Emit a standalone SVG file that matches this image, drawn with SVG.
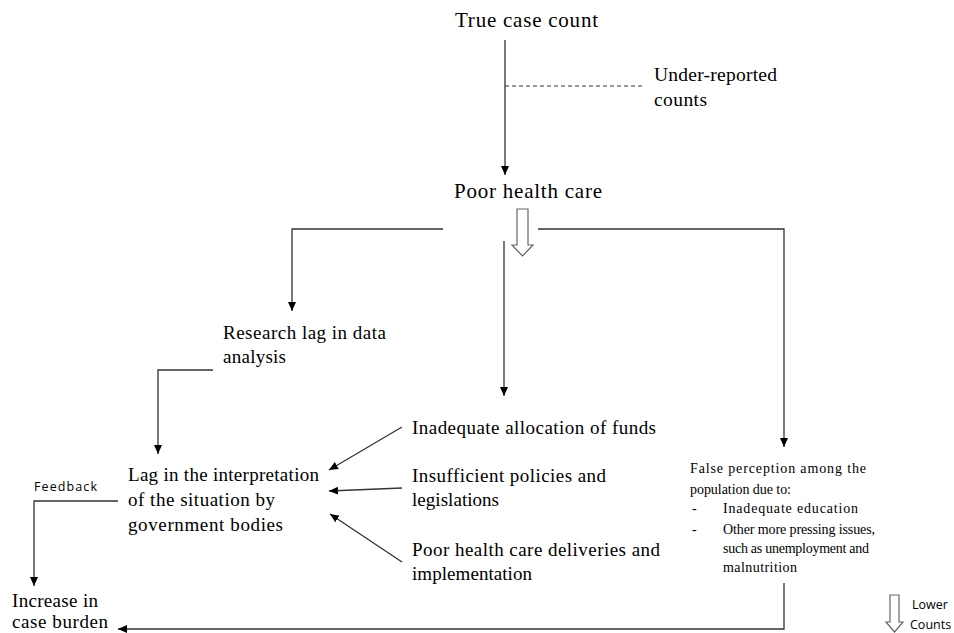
<svg xmlns="http://www.w3.org/2000/svg" width="954" height="633" viewBox="0 0 954 633">
<defs>
<marker id="ah" markerWidth="10" markerHeight="10" refX="9" refY="5" orient="auto" markerUnits="userSpaceOnUse">
<path d="M0,1 L9,5 L0,9 Z" fill="#000"/>
</marker>
</defs>
<style>
.t{font-family:"Liberation Serif","Times New Roman",serif;fill:#000}
.big{font-size:21px}
.mid{font-size:19px}
.sm{font-family:"Liberation Serif",serif;font-size:14px;fill:#000}
.cal{font-family:"Open Sans","Liberation Sans",sans-serif;font-size:12.5px;fill:#000}
.ln{stroke:#333;stroke-width:1.3;fill:none}
.ar{stroke:#333;stroke-width:1.3;fill:none;marker-end:url(#ah)}
.hollow{fill:#fff;stroke:#666;stroke-width:1.2}
</style>
<rect width="954" height="633" fill="#fff"/>

<g id="connectors">
<line class="ar" x1="505" y1="40" x2="505" y2="175"/>
<line x1="505" y1="86" x2="645" y2="86" stroke="#333" stroke-width="1" stroke-dasharray="4,3"/>
<polyline class="ar" points="443,229 292,229 292,311"/>
<polyline class="ar" points="538,229 784,229 784,447"/>
<line class="ar" x1="504" y1="241" x2="504" y2="396"/>
<polyline class="ar" points="213,370 158,370 158,454"/>
<line class="ar" x1="402" y1="427" x2="329" y2="470"/>
<line class="ar" x1="402" y1="488" x2="329" y2="491"/>
<line class="ar" x1="402" y1="562" x2="330" y2="514"/>
<polyline class="ar" points="118,501 34,501 34,586"/>
<polyline class="ar" points="784,583 784,629 118,629"/>
<path class="hollow" d="M517,209 L528,209 L528,245 L533,245 L522.5,256 L512,245 L517,245 Z"/>
<path class="hollow" d="M890,595 L899,595 L899,622 L903,622 L894.5,632 L886,622 L890,622 Z"/>
</g>

<g id="true-case-count"><text class="t big" x="455" y="27" textLength="143">True case count</text></g>
<g id="under-reported"><text class="t" font-size="19.5" x="654" y="81" textLength="123">Under-reported</text><text class="t" font-size="19.5" x="654" y="106" textLength="53">counts</text></g>
<g id="poor-health-care"><text class="t big" x="454" y="198" textLength="148">Poor health care</text></g>
<g id="research-lag"><text class="t mid" x="223" y="339" textLength="163">Research lag in data</text><text class="t mid" x="223" y="363" textLength="63">analysis</text></g>
<g id="lag-interpretation"><text class="t mid" x="128" y="481" textLength="191">Lag in the interpretation</text><text class="t mid" x="128" y="506" textLength="147">of the situation by</text><text class="t mid" x="128" y="531" textLength="155">government bodies</text></g>
<g id="funds"><text class="t mid" x="412" y="434" textLength="244">Inadequate allocation of funds</text></g>
<g id="policies"><text class="t mid" x="412" y="482" textLength="194">Insufficient policies and</text><text class="t mid" x="412" y="506" textLength="87">legislations</text></g>
<g id="deliveries"><text class="t mid" x="412" y="556" textLength="248">Poor health care deliveries and</text><text class="t mid" x="412" y="580" textLength="120">implementation</text></g>
<g id="false-perception">
<text class="sm" x="690" y="473" textLength="176">False perception among the</text>
<text class="sm" x="690" y="494" textLength="101">population  due to:</text>
<text class="sm" x="692" y="513">-</text><text class="sm" x="723" y="513" textLength="135">Inadequate education</text>
<text class="sm" x="692" y="534">-</text><text class="sm" x="723" y="534" textLength="152">Other more pressing issues,</text>
<text class="sm" x="723" y="553" textLength="146">such as unemployment  and</text>
<text class="sm" x="723" y="572" textLength="74">malnutrition</text>
</g>
<g id="feedback"><text class="cal" font-size="14" x="34" y="491" textLength="63">Feedback</text></g>
<g id="increase"><text class="t mid" x="12" y="607" textLength="86">Increase in</text><text class="t mid" x="12" y="628" textLength="96">case burden</text></g>
<g id="lower-counts"><text class="cal" x="912" y="609">Lower</text><text class="cal" x="910" y="629">Counts</text></g>
</svg>
